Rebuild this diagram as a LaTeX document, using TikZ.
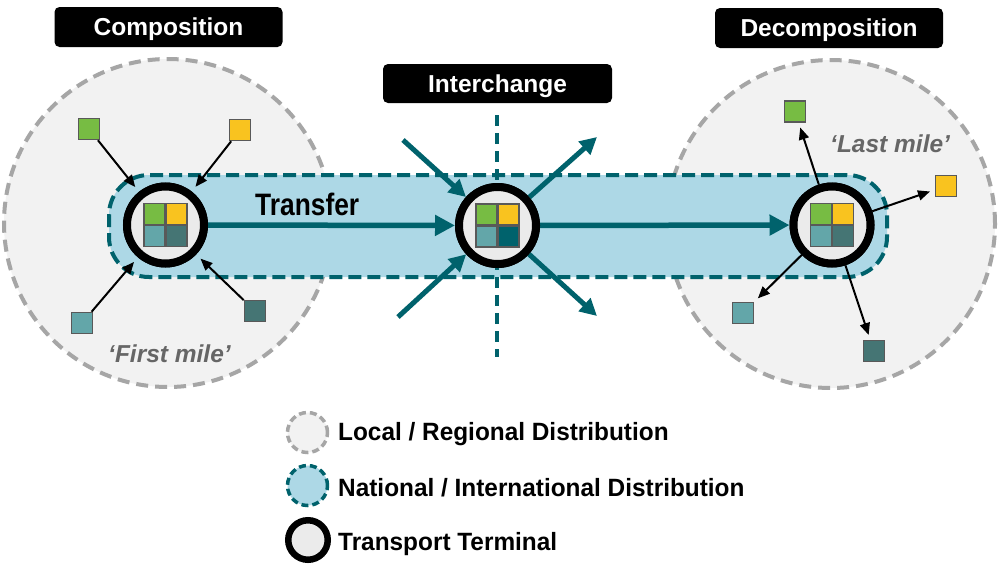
\documentclass[tikz,border=0pt]{standalone}
\usepackage{fontspec}
\setmainfont{Liberation Sans}
\newfontfamily\condfont[FakeStretch=0.85]{Liberation Sans}
\newfontfamily\legfont[FakeStretch=0.975]{Liberation Sans}
\usetikzlibrary{arrows.meta}
\definecolor{localfill}{HTML}{F2F2F2}
\definecolor{localline}{HTML}{A6A6A6}
\definecolor{bandfill}{HTML}{ADD8E6}
\definecolor{tealdark}{HTML}{00626C}
\definecolor{termfill}{HTML}{EBEBEB}
\definecolor{sqgreen}{HTML}{77BC43}
\definecolor{sqyellow}{HTML}{F9C31F}
\definecolor{sqlight}{HTML}{63A6A9}
\definecolor{sqdark}{HTML}{457574}
\definecolor{sqedge}{HTML}{595959}
\definecolor{miletext}{HTML}{666666}
\newcommand\termicon[2]{%
  \node[qsq,fill=sqgreen]  (#1-a) at ([shift={(-11,-11)}]#1.center) {};
  \node[qsq,fill=sqyellow] (#1-b) at ([shift={(11,-11)}]#1.center) {};
  \node[qsq,fill=sqlight]  (#1-c) at ([shift={(-11,11)}]#1.center) {};
  \node[qsq,fill=#2]       (#1-d) at ([shift={(11,11)}]#1.center) {};
}
\begin{document}
\begin{tikzpicture}[x=1pt,y=-1pt,
  localreg/.style={circle,draw=localline,fill=localfill,line width=4,dash pattern=on 12 off 7,minimum size=328,inner sep=0},
  band/.style={rectangle,rounded corners=40,draw=tealdark,fill=bandfill,line width=4,dash pattern=on 13 off 6,minimum width=778,minimum height=102,inner sep=0},
  terminal/.style={circle,draw=black,fill=termfill,line width=8,minimum size=77,inner sep=0},
  qsq/.style={rectangle,draw=sqedge,line width=1.5,minimum size=21,inner sep=0},
  sq/.style={rectangle,draw=sqedge,line width=1.5,minimum size=21,inner sep=0},
  blabel/.style={rectangle,rounded corners=5,fill=black,text=white,font=\fontsize{24.5}{29}\selectfont\bfseries,minimum width=228,minimum height=40,text height=17.5,text depth=0,inner sep=0},
  feed/.style={-{Triangle[length=12,width=10]},line width=2,draw=black},
  flow/.style={-{Triangle[length=17,width=17]},line width=5,draw=tealdark},
  transfer/.style={-{Triangle[length=20,width=20]},line width=5.5,draw=tealdark},
  milelabel/.style={text=miletext,font=\fontsize{24.5}{29}\selectfont\bfseries\itshape,inner sep=0,anchor=base west},
  legtext/.style={font=\legfont\fontsize{25}{30}\selectfont\bfseries,anchor=base west,inner sep=0},
  vline/.style={draw=tealdark,line width=4,dash pattern=on 11 off 7}
]
\fill[white] (0,0) rectangle (1000,576);
\useasboundingbox (0,0) rectangle (1000,576);

% regional areas
\node[localreg] (locL) at (168,223) {};
\node[localreg] (locR) at (831,224) {};

% national band
\node[band] (band) at (498,226) {};

% interchange dashed line
\coordinate (vTop) at (497,115);
\coordinate (vBot) at (497,357);
\draw[vline] (vTop) -- (vBot);

% terminals
\node[terminal] (tL) at (165.5,225) {};
\node[terminal] (tM) at (497.5,225.5) {};
\node[terminal] (tR) at (832,225) {};

% transfer arrows
\draw[transfer] (tL) -- (tM);
\draw[transfer] (tM) -- (tR);

% interchange flows
\coordinate (in1) at (403,140);
\coordinate (in2) at (398,317);
\coordinate (out1) at (597,137);
\coordinate (out2) at (597,316);
\draw[flow] (in1) -- (tM);
\draw[flow] (in2) -- (tM);
\draw[flow] (tM) -- (out1);
\draw[flow] (tM) -- (out2);

% redraw terminals on top
\node[terminal] (tL2) at (tL) {};
\node[terminal] (tM2) at (tM) {};
\node[terminal] (tR2) at (tR) {};
\termicon{tL2}{sqdark}
\termicon{tM2}{tealdark}
\termicon{tR2}{sqdark}

% first mile squares
\node[sq,fill=sqgreen]  (fG) at (89,129) {};
\node[sq,fill=sqyellow] (fY) at (240,130) {};
\node[sq,fill=sqlight]  (fL) at (82,323) {};
\node[sq,fill=sqdark]   (fD) at (255,311) {};
\draw[feed,shorten >=6] (fG) -- (tL2);
\draw[feed,shorten >=6] (fY) -- (tL2);
\draw[feed,shorten >=6] (fL) -- (tL2);
\draw[feed,shorten >=6] (fD) -- (tL2);

% last mile squares
\node[sq,fill=sqgreen]  (lG) at (795,111.5) {};
\node[sq,fill=sqyellow] (lY) at (946,186) {};
\node[sq,fill=sqlight]  (lL) at (743,313) {};
\node[sq,fill=sqdark]   (lD) at (874,351) {};
\draw[feed,shorten >=5] (tR2) -- (lG);
\draw[feed,shorten >=5] (tR2) -- (lY);
\draw[feed,shorten >=5] (tR2) -- (lL);
\draw[feed,shorten >=5] (tR2) -- (lD);

% labels
\node[blabel] (comp) at (168.5,27) {Composition};
\node[blabel,minimum width=229,minimum height=39] (inter) at (497.5,83.5) {Interchange};
\node[blabel] (decomp) at (829,28) {Decomposition};
\node[font=\condfont\fontsize{31}{36}\selectfont\bfseries,anchor=base west,inner sep=0] (transferlbl) at (255,215) {Transfer};
\node[milelabel] (firstmile) at (108,362) {‘First mile’};
\node[milelabel] (lastmile) at (830,152) {‘Last mile’};

% legend
\node[circle,draw=localline,fill=localfill,line width=3.5,dash pattern=on 7 off 4,minimum size=40,inner sep=0] (legL) at (307.5,432.5) {};
\node[circle,draw=tealdark,fill=bandfill,line width=3.5,dash pattern=on 7 off 4,minimum size=40,inner sep=0] (legN) at (307.5,485.5) {};
\node[circle,draw=black,fill=termfill,line width=6.5,minimum size=39.5,inner sep=0] (legT) at (308,540) {};
\node[legtext] (legLt) at (338,440) {Local / Regional Distribution};
\node[legtext] (legNt) at (338,496) {National / International Distribution};
\node[legtext] (legTt) at (338,550) {Transport Terminal};
\end{tikzpicture}
\end{document}
